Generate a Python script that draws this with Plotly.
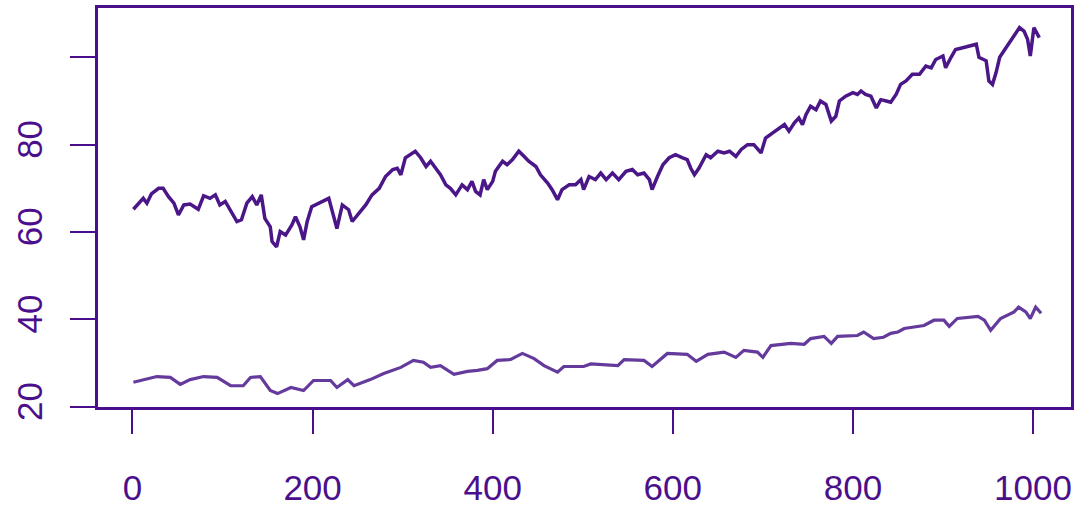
import plotly.graph_objects as go

# Upper series (index, value)
upper_x = [1, 7, 12, 16, 21, 29, 34, 40, 46, 51, 57, 64, 73, 79, 86, 92, 97, 103, 109, 116,
           121, 127, 133, 138, 143, 147, 153, 155, 160, 164, 170, 177, 181, 186, 190, 194, 199,
           207, 212, 218, 221, 227, 233, 240, 244, 251, 259, 266, 274, 281, 289, 294, 298, 303,
           309, 314, 320, 326, 331, 337, 342, 348, 353, 359, 366, 372, 377, 381, 386, 390, 394,
           400, 403, 411, 416, 422, 429, 435, 440, 448, 453, 461, 466, 472, 477, 485, 492, 498,
           501, 507, 514, 520, 526, 533, 540, 548, 555, 561, 568, 574, 577, 583, 589, 596, 603,
           611, 616, 620, 624, 629, 637, 642, 650, 657, 663, 670, 676, 683, 690, 698, 703, 711,
           718, 724, 729, 735, 740, 744, 748, 753, 759, 764, 770, 776, 781, 785, 792, 800, 805,
           809, 814, 820, 826, 831, 837, 842, 848, 853, 859, 866, 874, 881, 887, 892, 900, 903,
           909, 914, 922, 929, 937, 940, 948, 951, 955, 959, 963, 970, 977, 985, 990, 994, 997,
           1001, 1007]
upper_y = [65.2, 66.6, 67.7, 66.6, 68.7, 70.0, 70.0, 68.1, 66.6, 63.9, 66.2, 66.4, 65.2, 68.3,
           67.7, 68.5, 66.2, 67.0, 64.7, 62.4, 62.8, 66.6, 68.1, 66.2, 68.5, 63.1, 61.2, 57.8,
           56.6, 60.1, 59.3, 61.6, 63.5, 61.2, 58.2, 62.4, 65.8, 66.6, 67.0, 67.7, 65.4, 60.8,
           66.2, 65.1, 62.4, 64.3, 66.2, 68.5, 70.0, 72.7, 74.3, 74.6, 73.1, 77.0, 77.7, 78.5,
           77.0, 75.0, 76.2, 74.6, 73.1, 70.8, 70.0, 68.5, 70.8, 69.7, 71.6, 69.3, 68.5, 72.0,
           69.7, 71.6, 73.9, 76.2, 75.4, 76.6, 78.5, 77.3, 76.2, 75.0, 73.1, 71.2, 69.7, 67.4,
           69.7, 70.8, 70.8, 72.0, 69.7, 72.7, 72.0, 73.5, 72.0, 73.5, 72.0, 73.9, 74.3, 73.1,
           73.5, 72.0, 69.7, 72.7, 75.4, 77.0, 77.7, 77.0, 76.6, 74.6, 73.1, 74.6, 77.7, 77.0,
           78.5, 78.1, 78.5, 77.3, 78.9, 80.0, 80.0, 78.1, 81.5, 82.7, 83.8, 84.6, 83.1, 85.0,
           86.1, 84.6, 86.9, 88.8, 88.0, 90.0, 89.2, 85.4, 86.5, 90.0, 91.1, 91.9, 91.5, 92.3,
           91.5, 91.1, 88.4, 90.3, 90.0, 89.7, 91.5, 93.8, 94.6, 96.1, 96.1, 98.0, 97.6, 99.5,
           100.3, 97.6, 100.0, 101.8, 102.2, 102.6, 103.0, 100.0, 99.2, 94.6, 93.8, 96.5, 100.0,
           102.2, 104.5, 106.8, 106.0, 104.1, 100.3, 106.8, 104.5]

# Lower series (index, value)
lower_x = [1, 27, 42, 53, 64, 79, 94, 109, 123, 131, 142, 153, 161, 176, 190, 201, 220, 227,
           239, 246, 264, 279, 298, 312, 323, 331, 342, 357, 372, 383, 394, 405, 420, 433, 446,
           457, 472, 479, 501, 509, 539, 546, 568, 577, 594, 616, 626, 639, 657, 670, 679, 694,
           700, 709, 731, 746, 753, 768, 776, 783, 805, 812, 823, 834, 842, 850, 857, 879, 890,
           901, 907, 916, 939, 946, 953, 964, 979, 984, 992, 997, 1003, 1009]
lower_y = [25.6, 26.9, 26.7, 25.1, 26.2, 26.9, 26.7, 24.8, 24.8, 26.7, 26.9, 23.7, 23.0, 24.4,
           23.7, 26.0, 26.0, 24.4, 26.2, 24.8, 26.2, 27.6, 29.0, 30.6, 30.2, 29.0, 29.4, 27.4,
           28.1, 28.3, 28.7, 30.6, 30.8, 32.2, 31.0, 29.4, 27.9, 29.2, 29.2, 29.8, 29.4, 30.8,
           30.6, 29.2, 32.2, 32.0, 30.4, 32.0, 32.5, 31.3, 32.9, 32.5, 31.3, 34.0, 34.5, 34.3,
           35.6, 36.1, 34.5, 36.1, 36.3, 37.1, 35.6, 35.9, 36.8, 37.1, 37.9, 38.6, 39.8, 39.8,
           38.4, 40.2, 40.7, 39.8, 37.5, 40.2, 41.7, 42.8, 41.7, 40.2, 42.8, 41.4]

x_ticks = [0, 200, 400, 600, 800, 1000]
x_tick_labels = ["0", "200", "400", "600", "800", "1000"]
y_ticks = [20, 40, 60, 80, 100]
y_tick_labels = ["20", "40", "60", "80", ""]

AXIS = "#4B0F8C"
UPPER = "#4A1688"
LOWER = "#643A9C"
FONT = dict(family="Liberation Sans, Arial, sans-serif", size=35, color=AXIS)

fig = go.Figure()
fig.add_trace(go.Scatter(x=upper_x, y=upper_y, mode="lines",
                         line=dict(color=UPPER, width=3.5), showlegend=False))
fig.add_trace(go.Scatter(x=lower_x, y=lower_y, mode="lines",
                         line=dict(color=LOWER, width=3.2), showlegend=False))

fig.update_layout(
    width=1074, height=509,
    margin=dict(l=98, r=3, t=8, b=102),
    paper_bgcolor="white", plot_bgcolor="white",
    font=FONT,
)
fig.update_xaxes(
    range=[-38.3, 1042.2], tickvals=x_ticks, ticktext=x_tick_labels,
    showgrid=False, zeroline=False, automargin=False,
    showline=True, linecolor=AXIS, linewidth=3, mirror=True,
    ticks="outside", ticklen=24, tickwidth=2, tickcolor=AXIS,
    ticklabelstandoff=24, tickfont=FONT,
)
fig.update_yaxes(
    range=[19.93, 111.29], tickvals=y_ticks, ticktext=y_tick_labels,
    showgrid=False, zeroline=False, automargin=False,
    showline=True, linecolor=AXIS, linewidth=3, mirror=True,
    ticks="outside", ticklen=25, tickwidth=2, tickcolor=AXIS,
    tickangle=-90, ticklabelstandoff=14, tickfont=FONT,
)

fig.write_html("out.html")
